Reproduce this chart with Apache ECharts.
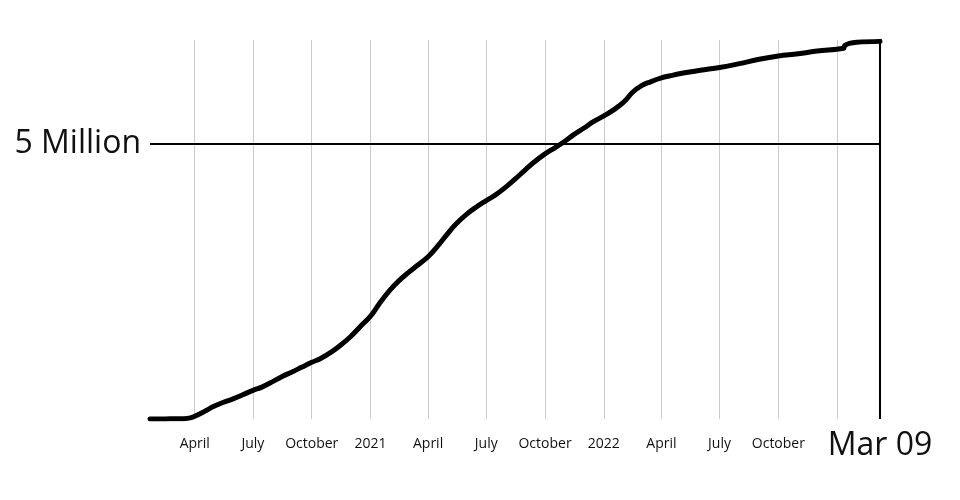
<!DOCTYPE html>
<html>
<head>
<meta charset="utf-8">
<script src="https://cdn.jsdelivr.net/npm/echarts@6/dist/echarts.min.js"></script>
<style>
html,body{margin:0;padding:0;background:#fff;}
#chart{width:960px;height:500px;}
</style>
</head>
<body>
<div id="chart"></div>
<script>
// ---- data ----
const startDate = '2020-01-22';
const endDate = '2023-03-09';
const endLabel = 'Mar 09';
const yMaxMillions = 6.89;
const refLineMillions = 5;
const refLineLabel = '5 Million';

const tickDates = ['2020-04-01','2020-07-01','2020-10-01','2021-01-01','2021-04-01','2021-07-01','2021-10-01','2022-01-01','2022-04-01','2022-07-01','2022-10-01','2023-01-01'];
const tickLabels = ['April','July','October','2021','April','July','October','2022','April','July','October',''];

const dates = [
'2020-01-22','2020-02-15','2020-03-01','2020-03-15','2020-03-25','2020-04-01','2020-04-15','2020-05-01','2020-05-15','2020-06-01','2020-06-15','2020-07-01','2020-07-15','2020-08-01','2020-08-15','2020-09-01','2020-09-15','2020-10-01','2020-10-15','2020-11-01','2020-11-15','2020-12-01','2020-12-15',
'2021-01-01','2021-01-15','2021-02-01','2021-02-15','2021-03-01','2021-03-15','2021-04-01','2021-04-15','2021-05-01','2021-05-15','2021-06-01','2021-06-15','2021-07-01','2021-07-15','2021-08-01','2021-08-15','2021-09-01','2021-09-15','2021-10-01','2021-10-15','2021-11-01','2021-11-15','2021-12-01','2021-12-15',
'2022-01-01','2022-01-15','2022-02-01','2022-02-15','2022-03-01','2022-03-15','2022-04-01','2022-04-15','2022-05-01','2022-06-01','2022-07-01','2022-08-01','2022-09-01','2022-10-01','2022-11-01','2022-12-01',
'2023-01-11','2023-01-13','2023-01-20','2023-02-01','2023-03-09'
];
const deathsMillions = [
0.0,0.002,0.003,0.006,0.02,0.05,0.13,0.23,0.30,0.37,0.44,0.52,0.58,0.68,0.77,0.86,0.94,1.03,1.10,1.22,1.34,1.50,1.67,
1.87,2.10,2.35,2.52,2.66,2.79,2.95,3.13,3.36,3.55,3.73,3.85,3.97,4.07,4.22,4.36,4.54,4.68,4.82,4.92,5.05,5.17,5.29,5.40,
5.51,5.61,5.76,5.94,6.06,6.13,6.20,6.24,6.28,6.34,6.39,6.46,6.54,6.60,6.64,6.69,
6.74,6.79,6.83,6.85,6.865
];

// ---- build ----
const ts = s => { const p = s.split('-').map(Number); return Date.UTC(p[0], p[1]-1, p[2]); };
const M = 1e6;
const startTs = ts(startDate), endTs = ts(endDate);
const tickTs = tickDates.map(ts);
const labelTs = tickTs.concat([endTs]);
const labelText = tickLabels.concat([endLabel]);
const seriesData = dates.map((d,i) => [ts(d), deathsMillions[i]*M]);

function labelFor(v){
  let best = -1, bd = Infinity;
  labelTs.forEach((t,i)=>{ const d = Math.abs(t-v); if (d<bd){bd=d;best=i;} });
  if (best < 0 || bd > 86400000*2) return '';
  const txt = labelText[best];
  if (!txt) return '';
  return best === labelTs.length-1 ? '{b|' + txt + '}' : '{s|' + txt + '}';
}

const chart = echarts.init(document.getElementById('chart'), null, {renderer:'canvas'});
chart.setOption({
  animation: false,
  backgroundColor: '#fff',
  textStyle: {fontFamily: 'Open Sans'},
  grid: {left:150, right:80, top:40, bottom:81, containLabel:false},
  xAxis: {
    type: 'value',
    min: startTs,
    max: endTs,
    axisLine: {show:false},
    axisTick: {show:false, customValues: tickTs},
    splitLine: {show:true, lineStyle:{color:'#cccccc', width:1}},
    axisLabel: {
      customValues: labelTs,
      formatter: labelFor,
      hideOverlap: false,
      showMinLabel: true,
      showMaxLabel: true,
      margin: 25,
      verticalAlign: 'middle',
      color: '#111',
      fontFamily: 'Open Sans',
      rich: {
        s: {fontSize: 14, fontFamily: 'Open Sans', color:'#111'},
        b: {fontSize: 32, fontFamily: 'Open Sans', color:'#111', padding:[4,0,0,0]}
      }
    }
  },
  yAxis: {
    type: 'value',
    min: 0,
    max: yMaxMillions*M,
    axisLine: {show:false},
    axisTick: {show:false},
    splitLine: {show:false},
    axisLabel: {
      customValues: [refLineMillions*M],
      formatter: () => refLineLabel,
      fontSize: 32,
      fontFamily: 'Open Sans',
      color: '#111',
      margin: 9,
      padding: [0,0,8,0]
    }
  },
  series: [{
    type: 'line',
    data: seriesData,
    showSymbol: false,
    smooth: 0.4,
    lineStyle: {color:'#000', width:5, cap:'round', join:'round'},
    markLine: {
      silent: true,
      symbol: ['none','none'],
      label: {show:false},
      lineStyle: {color:'#000', width:2, type:'solid'},
      data: [{yAxis: refLineMillions*M}, {xAxis: endTs}]
    }
  }]
});
</script>
</body>
</html>
